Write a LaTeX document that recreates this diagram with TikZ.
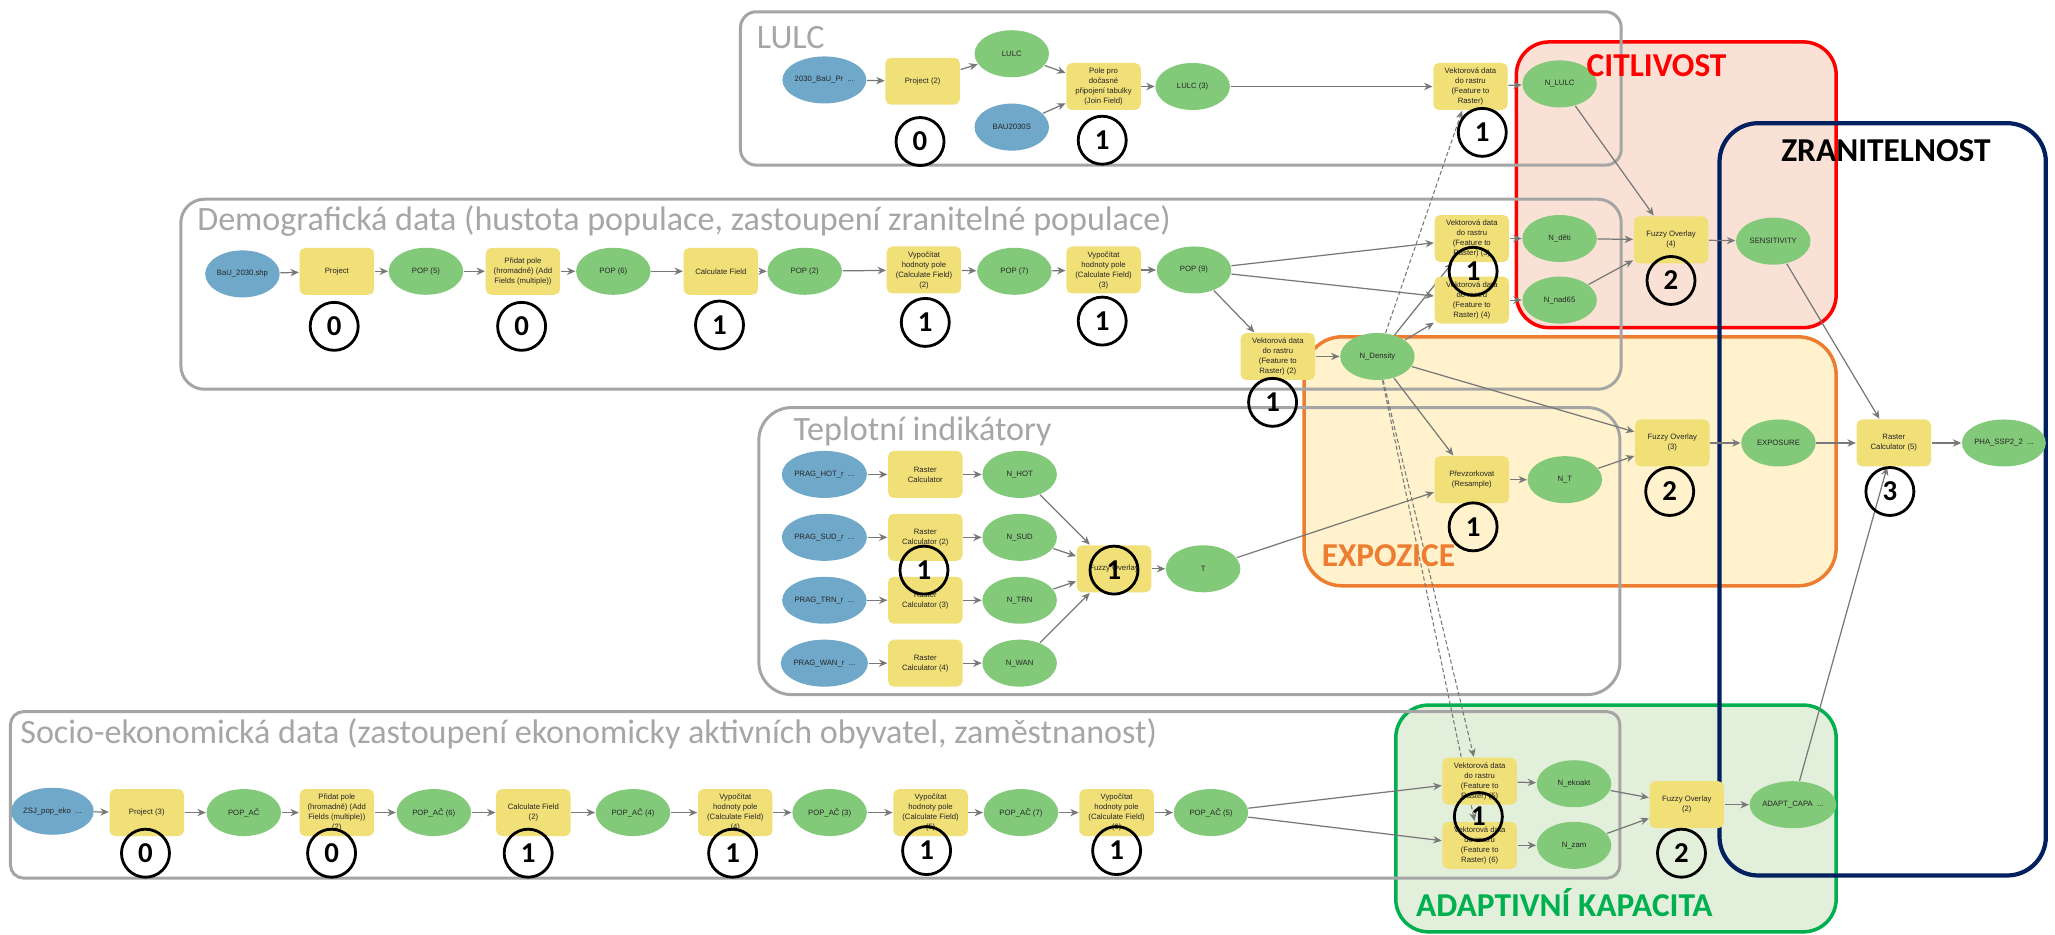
\documentclass[tikz,border=0pt]{standalone}
\usepackage{fontspec}
\setmainfont{Liberation Sans}
\newfontfamily\calib{Carlito}
\usetikzlibrary{shapes.geometric,arrows.meta}
\pgfdeclarelayer{back}
\pgfdeclarelayer{edges}
\pgfsetlayers{back,edges,main}

\definecolor{nblue}{RGB}{111,168,201}
\definecolor{ngreen}{RGB}{131,201,122}
\definecolor{nyellow}{RGB}{241,223,120}
\definecolor{framegrey}{RGB}{165,165,165}
\definecolor{titlegrey}{RGB}{166,166,166}
\definecolor{arrowgrey}{RGB}{120,120,120}
\definecolor{citfill}{RGB}{249,226,213}
\definecolor{expfill}{RGB}{255,242,204}
\definecolor{adafill}{RGB}{226,239,218}
\definecolor{citline}{RGB}{255,0,0}
\definecolor{expline}{RGB}{237,125,49}
\definecolor{adaline}{RGB}{0,176,80}
\definecolor{zraline}{RGB}{0,32,96}

\tikzset{
  every node/.style={font=\fontsize{2.2}{2.85}\selectfont, text=black!85},
  dsbase/.style={ellipse, inner sep=0pt, minimum width=0.745cm, minimum height=0.47cm, align=center},
  dsin/.style={dsbase, fill=nblue},
  dsout/.style={dsbase, fill=ngreen},
  toolbox/.style={rectangle, rounded corners=1.6pt, fill=nyellow, inner sep=0pt,
                  minimum width=0.745cm, minimum height=0.47cm, align=center},
  stepbadge/.style={circle, draw=black, line width=0.8pt, inner sep=0pt, minimum size=0.48cm,
                    font=\calib\bfseries\fontsize{8.2}{8.2}\selectfont, text=black},
  arrowflow/.style={draw=arrowgrey, line width=0.35pt, -{Stealth[length=2.4pt,width=2.1pt]}},
  envflow/.style={arrowflow, dash pattern=on 1.2pt off 0.7pt, line width=0.3pt},
  grpframe/.style={draw=framegrey, line width=0.85pt},
  grptitle/.style={anchor=base west, inner sep=0pt, font=\calib\fontsize{9.7}{9.7}\selectfont, text=titlegrey},
  themetitle/.style={inner sep=0pt, font=\calib\bfseries\fontsize{9.5}{9.5}\selectfont},
}

\begin{document}
\begin{tikzpicture}[x=0.013106cm, y=-0.013106cm]
\useasboundingbox (0,0) rectangle (1568,713);

% ---------- thematic areas and model groups ----------
\begin{pgfonlayer}{back}
  \fill[white] (0,0) rectangle (1568,713);
  \draw[draw=citline, fill=citfill, line width=1pt, rounded corners=9.3pt] (1157,32) rectangle (1401,250);
  \draw[draw=expline, fill=expfill, line width=1pt, rounded corners=10.8pt] (995,257) rectangle (1401,447);
  \draw[draw=adaline, fill=adafill, line width=1pt, rounded corners=9.3pt] (1065,538) rectangle (1401,711);
  \draw[draw=zraline, line width=1.2pt, rounded corners=11pt] (1312,94) rectangle (1561,668);
  \draw[grpframe, rounded corners=4.5pt] (565,9) rectangle (1237,126);
  \draw[grpframe, rounded corners=6.7pt] (138,152) rectangle (1237,297);
  \draw[grpframe, rounded corners=9.3pt] (579,311) rectangle (1236,530);
  \draw[grpframe, rounded corners=3.7pt] (8,543) rectangle (1236,670);
\end{pgfonlayer}

% group titles
\node[grptitle] at (577,37) {LULC};
\node[grptitle] at (150,176) {Demografická data (hustota populace, zastoupení zranitelné populace)};
\node[grptitle] at (605,336) {Teplotní indikátory};
\node[grptitle] at (15,567) {Socio-ekonomická data (zastoupení ekonomicky aktivních obyvatel, zaměstnanost)};

% ---------- LULC ----------
\node[dsin]    (i1) at (629,61)  {2030\_BaU\_Pr \ ...};
\node[toolbox] (t1) at (704,62)  {Project (2)};
\node[dsout]   (o1) at (772,41)  {LULC};
\node[dsin]    (i2) at (772,97)  {BAU2030S};
\node[toolbox] (t2) at (842,66)  {Pole pro\\dočasné\\připojení tabulky\\(Join Field)};
\node[dsout]   (o2) at (910,66)  {LULC (3)};
\node[toolbox] (tL) at (1122,66) {Vektorová data\\do rastru\\(Feature to\\Raster)};
\node[dsout]   (oL) at (1190,64) {N\_LULC};

% ---------- demography ----------
\node[dsin]    (i3) at (185,209) {BaU\_2030.shp};
\node[toolbox] (t3) at (257,207) {Project};
\node[dsout]   (o3) at (325,207) {POP (5)};
\node[toolbox] (t4) at (399,207) {Přidat pole\\(hromadně) (Add\\Fields (multiple))};
\node[dsout]   (o4) at (468,207) {POP (6)};
\node[toolbox] (t5) at (550,207) {Calculate Field};
\node[dsout]   (o5) at (614,207) {POP (2)};
\node[toolbox] (t6) at (705,206) {Vypočítat\\hodnoty pole\\(Calculate Field)\\(2)};
\node[dsout]   (o6) at (774,207) {POP (7)};
\node[toolbox] (t7) at (842,206) {Vypočítat\\hodnoty pole\\(Calculate Field)\\(3)};
\node[dsout]   (o7) at (911,206) {POP (9)};
\node[toolbox] (tD) at (975,272) {Vektorová data\\do rastru\\(Feature to\\Raster) (2)};
\node[dsout]   (oD) at (1051,272) {N\_Density};
\node[toolbox] (t8) at (1123,182) {Vektorová data\\do rastru\\(Feature to\\Raster) (3)};
\node[toolbox] (t9) at (1123,229) {Vektorová data\\do rastru\\(Feature to\\Raster) (4)};
\node[dsout]   (o8) at (1190,182) {N\_děti};
\node[dsout]   (o9) at (1190,229) {N\_nad65};
\node[toolbox] (f4) at (1275,183) {Fuzzy Overlay\\(4)};
\node[dsout]   (oS) at (1353,184) {SENSITIVITY};

% ---------- temperature ----------
\node[dsin]    (h1) at (629,362) {PRAG\_HOT\_r \ ...};
\node[dsin]    (h2) at (629,410) {PRAG\_SUD\_r \ ...};
\node[dsin]    (h3) at (629,458) {PRAG\_TRN\_r \ ...};
\node[dsin]    (h4) at (629,506) {PRAG\_WAN\_r \ ...};
\node[toolbox] (r1) at (706,362) {Raster\\Calculator};
\node[toolbox] (r2) at (706,410) {Raster\\Calculator (2)};
\node[toolbox] (r3) at (706,458) {Raster\\Calculator (3)};
\node[toolbox] (r4) at (706,506) {Raster\\Calculator (4)};
\node[dsout]   (n1) at (778,362) {N\_HOT};
\node[dsout]   (n2) at (778,410) {N\_SUD};
\node[dsout]   (n3) at (778,458) {N\_TRN};
\node[dsout]   (n4) at (778,506) {N\_WAN};
\node[toolbox] (fT) at (850,434) {Fuzzy Overlay};
\node[dsout]   (oT) at (918,434) {T};

% ---------- exposure and result ----------
\node[toolbox] (tR) at (1123,366) {Převzorkovat\\(Resample)};
\node[dsout]   (oN) at (1194,366) {N\_T};
\node[toolbox] (f3) at (1276,338) {Fuzzy Overlay\\(3)};
\node[dsout]   (oE) at (1357,338) {EXPOSURE};
\node[toolbox] (rc) at (1445,338) {Raster\\Calculator (5)};
\node[dsout]   (oP) at (1529,338) {PHA\_SSP2\_2 \ ...};

% ---------- socio-economic ----------
\node[dsin]    (i9) at (40,619)  {ZSJ\_pop\_eko \ ...};
\node[toolbox] (s1) at (112,620) {Project (3)};
\node[dsout]   (p1) at (186,620) {POP\_AČ};
\node[toolbox] (s2) at (257,620) {Přidat pole\\(hromadně) (Add\\Fields (multiple))\\(2)};
\node[dsout]   (p2) at (331,620) {POP\_AČ (6)};
\node[toolbox] (s3) at (407,620) {Calculate Field\\(2)};
\node[dsout]   (p3) at (483,620) {POP\_AČ (4)};
\node[toolbox] (s4) at (561,620) {Vypočítat\\hodnoty pole\\(Calculate Field)\\(4)};
\node[dsout]   (p4) at (633,620) {POP\_AČ (3)};
\node[toolbox] (s5) at (710,620) {Vypočítat\\hodnoty pole\\(Calculate Field)\\(5)};
\node[dsout]   (p5) at (779,620) {POP\_AČ (7)};
\node[toolbox] (s6) at (852,620) {Vypočítat\\hodnoty pole\\(Calculate Field)\\(6)};
\node[dsout]   (p6) at (924,620) {POP\_AČ (5)};
\node[toolbox] (t10) at (1129,596) {Vektorová data\\do rastru\\(Feature to\\Raster) (5)};
\node[toolbox] (t11) at (1129,645) {Vektorová data\\do rastru\\(Feature to\\Raster) (6)};
\node[dsout]   (oK) at (1201,598) {N\_ekoakt};
\node[dsout]   (oZ) at (1201,645) {N\_zam};
\node[toolbox] (f2) at (1287,614) {Fuzzy Overlay\\(2)};
\node[dsout]   (oA) at (1368,614) {ADAPT\_CAPA \ ...};

% ---------- connectors ----------
\begin{pgfonlayer}{edges}
  % LULC
  \path[arrowflow] (i1) -- (t1);
  \path[arrowflow] (t1) -- (o1);
  \path[arrowflow] (o1) -- (t2);
  \path[arrowflow] (i2) -- (t2);
  \path[arrowflow] (t2) -- (o2);
  \path[arrowflow] (o2) -- (tL);
  \path[arrowflow] (tL) -- (oL);
  \path[arrowflow] (oL) -- (f4);
  % demography
  \path[arrowflow] (i3) -- (t3);
  \path[arrowflow] (t3) -- (o3);
  \path[arrowflow] (o3) -- (t4);
  \path[arrowflow] (t4) -- (o4);
  \path[arrowflow] (o4) -- (t5);
  \path[arrowflow] (t5) -- (o5);
  \path[arrowflow] (o5) -- (t6);
  \path[arrowflow] (t6) -- (o6);
  \path[arrowflow] (o6) -- (t7);
  \path[arrowflow] (t7) -- (o7);
  \path[arrowflow] (o7) -- (t8);
  \path[arrowflow] (o7) -- (t9);
  \path[arrowflow] (o7) -- (tD);
  \path[arrowflow] (tD) -- (oD);
  \path[arrowflow] (oD) -- (t8);
  \path[arrowflow] (oD) -- (t9);
  \path[envflow]   (oD) -- (tL);
  \path[arrowflow] (t8) -- (o8);
  \path[arrowflow] (t9) -- (o9);
  \path[arrowflow] (o8) -- (f4);
  \path[arrowflow] (o9) -- (f4);
  \path[arrowflow] (f4) -- (oS);
  \path[arrowflow] (oS) -- (rc);
  % temperature
  \path[arrowflow] (h1) -- (r1);
  \path[arrowflow] (h2) -- (r2);
  \path[arrowflow] (h3) -- (r3);
  \path[arrowflow] (h4) -- (r4);
  \path[arrowflow] (r1) -- (n1);
  \path[arrowflow] (r2) -- (n2);
  \path[arrowflow] (r3) -- (n3);
  \path[arrowflow] (r4) -- (n4);
  \path[arrowflow] (n1) -- (fT);
  \path[arrowflow] (n2) -- (fT);
  \path[arrowflow] (n3) -- (fT);
  \path[arrowflow] (n4) -- (fT);
  \path[arrowflow] (fT) -- (oT);
  % exposure
  \path[arrowflow] (oT) -- (tR);
  \path[arrowflow] (oD) -- (tR);
  \path[arrowflow] (tR) -- (oN);
  \path[arrowflow] (oN) -- (f3);
  \path[arrowflow] (oD) -- (f3);
  \path[arrowflow] (f3) -- (oE);
  \path[arrowflow] (oE) -- (rc);
  \path[arrowflow] (rc) -- (oP);
  % socio-economic
  \path[arrowflow] (i9) -- (s1);
  \path[arrowflow] (s1) -- (p1);
  \path[arrowflow] (p1) -- (s2);
  \path[arrowflow] (s2) -- (p2);
  \path[arrowflow] (p2) -- (s3);
  \path[arrowflow] (s3) -- (p3);
  \path[arrowflow] (p3) -- (s4);
  \path[arrowflow] (s4) -- (p4);
  \path[arrowflow] (p4) -- (s5);
  \path[arrowflow] (s5) -- (p5);
  \path[arrowflow] (p5) -- (s6);
  \path[arrowflow] (s6) -- (p6);
  \path[arrowflow] (p6) -- (t10);
  \path[arrowflow] (p6) -- (t11);
  \path[envflow]   (oD) -- (t10);
  \path[envflow]   (oD) -- (t11);
  \path[arrowflow] (t10) -- (oK);
  \path[arrowflow] (t11) -- (oZ);
  \path[arrowflow] (oK) -- (f2);
  \path[arrowflow] (oZ) -- (f2);
  \path[arrowflow] (f2) -- (oA);
  \path[arrowflow] (oA) -- (rc);
\end{pgfonlayer}

% ---------- processing level badges ----------
\node[stepbadge] (b1)  at (702,108)  {0};
\node[stepbadge] (b2)  at (841,107)  {1};
\node[stepbadge] (b3)  at (1131,101) {1};
\node[stepbadge] (b4)  at (255,249)  {0};
\node[stepbadge] (b5)  at (398,249)  {0};
\node[stepbadge] (b6)  at (549,248)  {1};
\node[stepbadge] (b7)  at (706,246)  {1};
\node[stepbadge] (b8)  at (841,245)  {1};
\node[stepbadge] (b9)  at (1124,207) {1};
\node[stepbadge] (b10) at (971,307)  {1};
\node[stepbadge] (b11) at (1275,214) {2};
\node[stepbadge] (b12) at (705,435)  {1};
\node[stepbadge] (b13) at (850,435)  {1};
\node[stepbadge] (b14) at (1124,402) {1};
\node[stepbadge] (b15) at (1274,375) {2};
\node[stepbadge] (b16) at (1442,375) {3};
\node[stepbadge] (b17) at (111,651)  {0};
\node[stepbadge] (b18) at (253,651)  {0};
\node[stepbadge] (b19) at (403,651)  {1};
\node[stepbadge] (b20) at (559,651)  {1};
\node[stepbadge] (b21) at (707,649)  {1};
\node[stepbadge] (b22) at (852,649)  {1};
\node[stepbadge] (b23) at (1128,623) {1};
\node[stepbadge] (b24) at (1283,651) {2};

% ---------- thematic area titles ----------
\node[themetitle, anchor=base, text=citline] at (1264,58.5) {CITLIVOST};
\node[themetitle, anchor=base, text=black] at (1439,123.5) {ZRANITELNOST};
\node[themetitle, anchor=base west, text=expline] at (1008,432) {EXPOZICE};
\node[themetitle, anchor=base west, text=adaline] at (1080,699.5) {ADAPTIVNÍ KAPACITA};
\end{tikzpicture}
\end{document}
